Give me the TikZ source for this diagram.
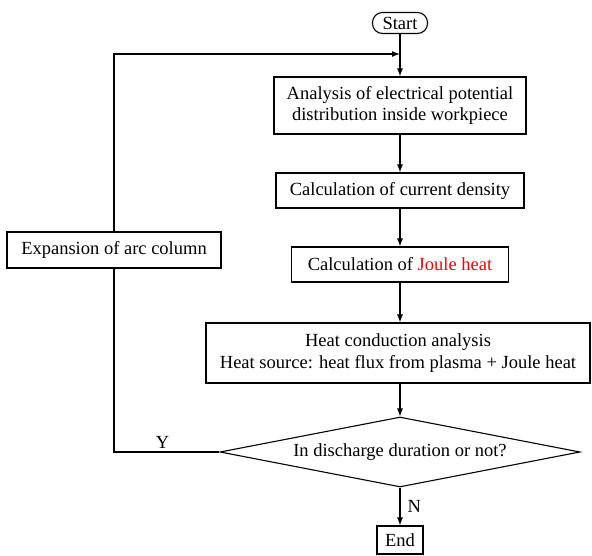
\documentclass[tikz,border=0pt]{standalone}
\usepackage{fontspec}
\setmainfont{Liberation Serif}
\usetikzlibrary{shapes.geometric,arrows.meta}

\begin{document}
\begin{tikzpicture}[x=1pt, y=-1pt, line width=1.1pt,
  every node/.style={font=\fontsize{18.5}{21.6}\selectfont, inner sep=0pt, align=center},
  procbox/.style={draw, rectangle},
  arr/.style={-{Latex[length=8pt,width=6pt]}}]

\useasboundingbox (0,0) rectangle (592,555);

% Start and end
\node[draw, rounded corners=10pt, minimum width=55pt, minimum height=21pt] (start) at (400,23) {Start};
\node[procbox, minimum width=46pt, minimum height=28pt] (finish) at (400,540) {End};

% Main column
\node[procbox, minimum width=252pt, minimum height=57pt] (potential) at (400,105.5)
  {Analysis of electrical potential\\distribution inside workpiece};
\node[procbox, minimum width=248pt, minimum height=35pt] (current) at (400,190.5)
  {Calculation of current density};
\node[procbox, minimum width=217pt, minimum height=35pt] (joule) at (400,264.5)
  {Calculation of \textcolor{red}{Joule heat}};
\node[procbox, minimum width=384pt, minimum height=60pt] (conduction) at (398,353)
  {Heat conduction analysis\\Heat source: heat flux from plasma + Joule heat};
\node[draw, diamond, aspect=5, minimum width=360pt, minimum height=70pt] (decide) at (400,452)
  {In discharge duration or not?};

% Loop back
\node[procbox, minimum width=214pt, minimum height=36pt] (expand) at (114,250)
  {Expansion of arc column};
\coordinate (join) at (400,54);

% Arrows
\draw[arr] (start) -- (potential);
\draw[arr] (potential) -- (current);
\draw[arr] (current) -- (joule);
\draw[arr] (joule.south) -- (joule.south |- conduction.north);
\draw[arr] (conduction.south -| decide.north) -- (decide.north);
\draw[arr] (decide.south) -- node[right=7pt, pos=0.5] (nolabel) {N} (finish.north);
\draw (decide.west) -| node[pos=0.27, above=3pt] (yeslabel) {Y} (expand.south);
\draw[arr] (expand.north) |- (join);

\end{tikzpicture}
\end{document}
